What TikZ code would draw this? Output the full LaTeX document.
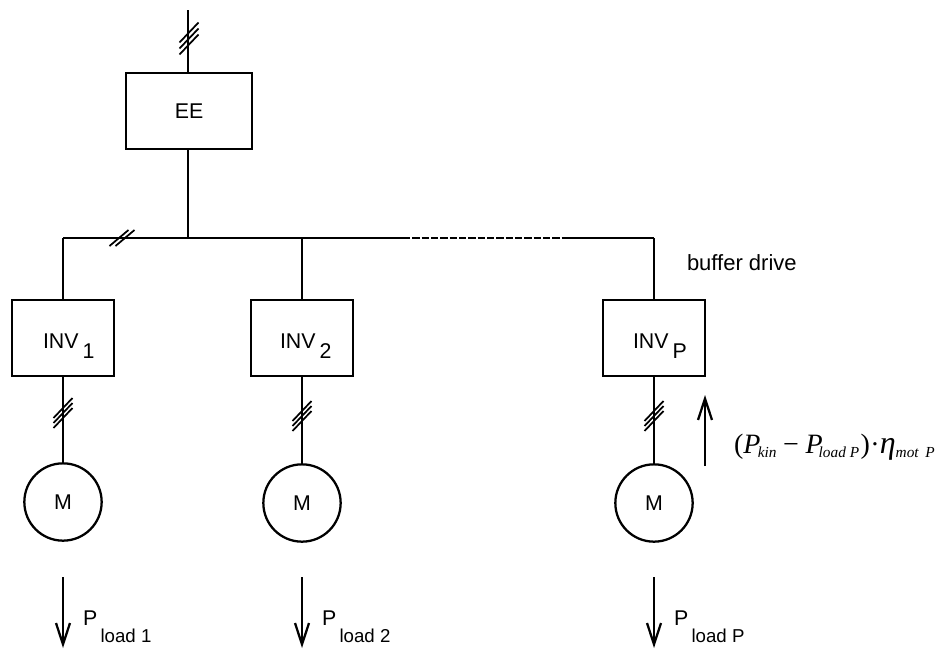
\documentclass[tikz,border=0pt]{standalone}
\usepackage{fontspec}
\setmainfont{Liberation Sans}
\newfontfamily\formfont{Liberation Serif}
\usetikzlibrary{arrows.meta}
\newcommand{\lowtext}[2]{\raisebox{-#1}{#2}}
\newcommand{\mainsz}{\fontsize{16}{19}\selectfont}
\newcommand{\subsz}{\fontsize{14}{16}\selectfont}
\newcommand{\formsub}{\fontsize{11.5}{13}\selectfont\itshape}
\tikzset{
  x=0.75pt,y=-0.75pt,
  wire/.style={line width=1.6pt,black},
  thinwire/.style={line width=1.2pt,black},
  tick/.style={line width=1.3pt,black},
  power/.style={line width=1.6pt,black,-{Straight Barb[length=16pt,width=10.5pt,line width=1.7pt]}},
  eebox/.style={draw,line width=2pt,minimum width=94.5pt,minimum height=57pt,inner sep=0pt,outer sep=0pt},
  invbox/.style={draw,line width=1.6pt,minimum width=76pt,minimum height=57pt,inner sep=0pt,outer sep=0pt},
  motor/.style={draw,circle,line width=1.7pt,minimum size=58pt,inner sep=0pt,outer sep=0pt},
  lbl/.style={anchor=base west,inner sep=0pt,outer sep=0pt,font=\mainsz},
}
\begin{document}
\begin{tikzpicture}
\path[use as bounding box] (0,0) rectangle (941,650);
% boxes
\node[eebox,font=\mainsz] (ee) at (189,111) {EE};
\node[invbox] (inv1) at (63,338) {};
\node[invbox] (inv2) at (302,338) {};
\node[invbox] (invp) at (654,338) {};
\node[motor,font=\mainsz] (m1) at (63,502) {M};
\node[motor,font=\mainsz] (m2) at (302,503) {M};
\node[motor,font=\mainsz] (mp) at (654,503) {M};
% bus and free ends
\coordinate (in) at (188,10);
\coordinate (eebus) at (188,238);
\coordinate (bus1) at (63,238);
\coordinate (bus2) at (302,238);
\coordinate (busa) at (403,238);
\coordinate (busb) at (568,238);
\coordinate (busp) at (654,238);
\draw[wire] (in) -- (in |- ee.north);
\draw[wire] (in |- ee.south) -- (eebus);
\draw[thinwire] (bus1) -- (busa);
\draw[thinwire,dash pattern=on 5.5pt off 1.5pt] (busa) -- (busb);
\draw[thinwire] (busb) -- (busp);
\draw[wire] (bus1) -- (inv1.north);
\draw[wire] (bus2) -- (inv2.north);
\draw[wire] (busp) -- (invp.north);
\draw[wire] (inv1.south) -- (m1.north);
\draw[wire] (inv2.south) -- (m2.north);
\draw[wire] (invp.south) -- (mp.north);
% ticks
\foreach \cx/\cy/\s in {63/413/5,302/416/5,654/416/5,189/38.5/6}{
  \foreach \d in {-1,0,1}{
    \draw[tick] (\cx-9.5,\cy+\d*\s+10) -- (\cx+9.5,\cy+\d*\s-10);
  }
}
\foreach \d in {-3,3}{
  \draw[tick] (122+\d-9.5,238+8) -- (122+\d+9.5,238-8);
}
% labels
\node[lbl] (t1) at (43,348) {INV\kern3pt\lowtext{7.5pt}{1}};
\node[lbl] (t2) at (280,348) {INV\kern3pt\lowtext{7.5pt}{2}};
\node[lbl] (tp) at (633,348) {INV\kern3pt\lowtext{7.5pt}{P}};
\node[lbl] (bd) at (687,270) {\fontsize{16.5}{19}\selectfont buffer drive};
% load arrows
\coordinate (a1s) at (63,577); \coordinate (a1e) at (63,648);
\coordinate (a2s) at (302,577); \coordinate (a2e) at (302,648);
\coordinate (a3s) at (654,577); \coordinate (a3e) at (654,648);
\coordinate (ups) at (705,466); \coordinate (upe) at (705,395);
\draw[power] (a1s) -- (a1e);
\draw[power] (a2s) -- (a2e);
\draw[power] (a3s) -- (a3e);
\draw[power] (ups) -- (upe);
\node[lbl] (l1) at (83,625) {P\kern2.5pt\lowtext{13pt}{\subsz load 1}};
\node[lbl] (l2) at (322,625) {P\kern2.5pt\lowtext{13pt}{\subsz load 2}};
\node[lbl] (l3) at (674,625) {P\kern2.5pt\lowtext{13pt}{\subsz load P}};
% formula
\node[anchor=base west,inner sep=0pt,outer sep=0pt] (form) at (734,453) {\formfont\fontsize{21}{24}\selectfont
 (\textit{P}\kern-2pt\lowtext{3pt}{\formsub kin}\kern5pt−\kern5pt\textit{P}\kern-3pt\lowtext{3pt}{\formsub load P}\kern1pt)\kern.5pt·\kern0pt{\fontsize{24}{26}\selectfont\itshape η}\lowtext{3pt}{\formsub mot\kern5pt P}};
\end{tikzpicture}
\end{document}
